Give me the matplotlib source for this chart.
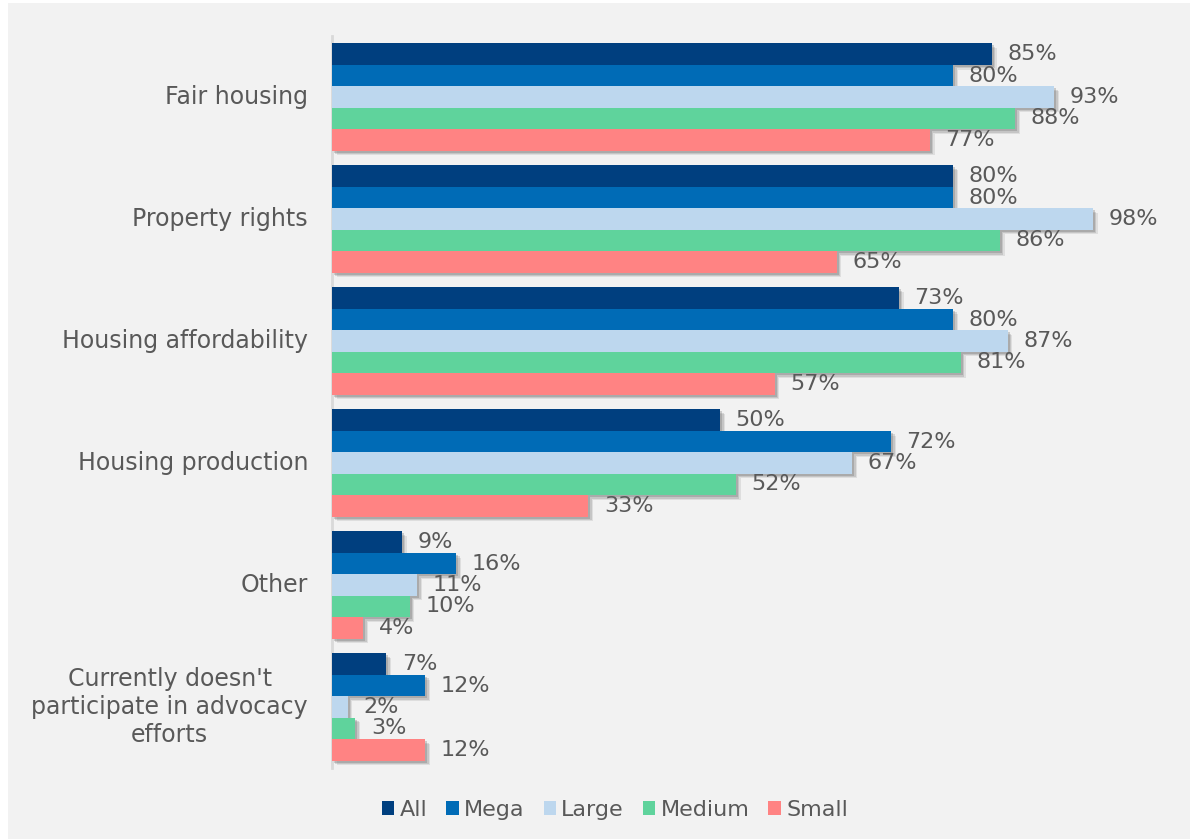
import matplotlib
matplotlib.use("Agg")
import matplotlib.pyplot as plt
import matplotlib.patheffects as pe
from matplotlib.patches import Rectangle, Patch
from matplotlib.transforms import blended_transform_factory, offset_copy
import numpy as np

plt.rcParams['font.family'] = ['DejaVu Sans']

categories = [
    "Fair housing",
    "Property rights",
    "Housing affordability",
    "Housing production",
    "Other",
    "Currently doesn't\nparticipate in advocacy\nefforts",
]
series_names = ["All", "Mega", "Large", "Medium", "Small"]
all_vals = [85, 80, 73, 50, 9, 7]
mega_vals = [80, 80, 80, 72, 16, 12]
large_vals = [93, 98, 87, 67, 11, 2]
medium_vals = [88, 86, 81, 52, 10, 3]
small_vals = [77, 65, 57, 33, 4, 12]
series_vals = [all_vals, mega_vals, large_vals, medium_vals, small_vals]
colors = ["#003f7f", "#006bb6", "#bdd7ee", "#5fd39c", "#ff8383"]

text_color = "#595959"

fig = plt.figure(figsize=(11.9, 8.39), dpi=100, facecolor="white")
fig.patches.append(Rectangle((8 / 1190, 0), 1 - 8 / 1190, 1 - 3 / 839,
                             transform=fig.transFigure, facecolor="#f2f2f2",
                             edgecolor="none", zorder=-10))

ax = fig.add_axes([332 / 1190, 1 - 768 / 839, 776.5 / 1190, 732 / 839])
ax.set_facecolor("none")

n_series = len(series_names)
bar_h = 0.176
y_base = np.arange(len(categories))

# soft drop shadow built from a few faint offset layers
shadow = [
    pe.SimplePatchShadow(offset=(3.4, -3.4), shadow_rgbFace="#6e6e6e", alpha=0.15),
    pe.SimplePatchShadow(offset=(2.5, -2.5), shadow_rgbFace="#6e6e6e", alpha=0.22),
    pe.SimplePatchShadow(offset=(1.5, -1.5), shadow_rgbFace="#6e6e6e", alpha=0.3),
    pe.Normal(),
]

for i, (name, vals, col) in enumerate(zip(series_names, series_vals, colors)):
    ys = y_base - (n_series - 1) / 2 * bar_h + i * bar_h
    bars = ax.barh(ys, vals, height=bar_h, color=col, label=name, zorder=2)
    for b in bars:
        b.set_path_effects(shadow)
    for y, v in zip(ys, vals):
        ax.text(v + 2.0, y, f"{v}%", va="center", ha="left", fontsize=16,
                color=text_color, zorder=3)

ax.set_xlim(0, 100)
ax.set_ylim(len(categories) - 0.5, -0.5)
ax.set_yticks([])
ax.set_xticks([])

label_tf = offset_copy(blended_transform_factory(ax.transAxes, ax.transData),
                       fig=fig, x=-24, y=0, units="dots")
for y, cat in zip(y_base, categories):
    ax.text(0, y, cat, transform=label_tf, ha="right", va="center",
            multialignment="center", fontsize=17, color=text_color,
            linespacing=1.2)

for s in ["top", "right", "bottom"]:
    ax.spines[s].set_visible(False)
ax.spines["left"].set_color("#d9d9d9")
ax.spines["left"].set_linewidth(2)
ax.spines["left"].set_zorder(1)

handles = [Patch(facecolor=c, edgecolor="none", label=n) for n, c in zip(series_names, colors)]
leg = fig.legend(handles=handles, loc="center", bbox_to_anchor=(615 / 1190, 1 - 810 / 839),
                 ncol=5, frameon=False, fontsize=16, handlelength=0.55, handleheight=0.55,
                 handletextpad=0.25, columnspacing=0.85)
for t in leg.get_texts():
    t.set_color(text_color)

fig.savefig("out.png", dpi=100, facecolor=fig.get_facecolor())
